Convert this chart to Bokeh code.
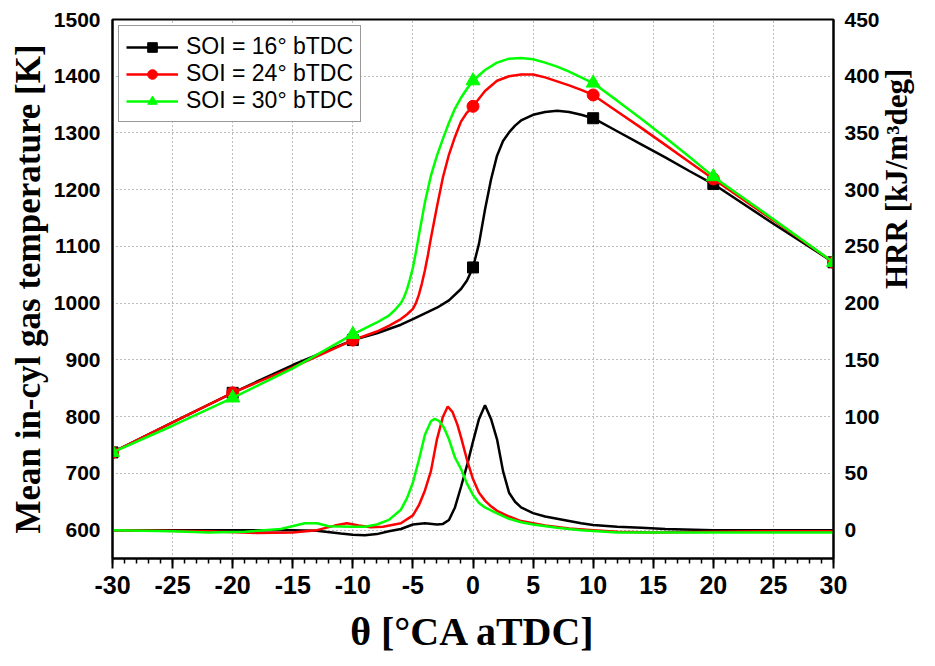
import math
from bokeh.plotting import figure
from bokeh.models import Range1d, LinearAxis, FixedTicker
from bokeh.embed import file_html
from bokeh.resources import INLINE

# ---------------- data ----------------
marker_theta = [-30, -20, -10, 0, 10, 20, 30]
x_ticks = list(range(-30, 31, 5))
left_ticks = list(range(600, 1501, 100))
right_ticks = list(range(0, 451, 50))

# Mean in-cylinder gas temperature [K]
t16_theta = [-30, -25, -20, -15, -10, -8, -6, -5, -4, -3, -2, -1, -0.5, 0, 0.5, 1, 1.5, 2, 2.5, 3,
             3.5, 4, 5, 6, 7, 8, 9, 10, 12, 14, 16, 18, 20, 25, 30]
t16_temp = [737, 790, 842, 891, 935, 947, 962, 972, 982, 992, 1005, 1025, 1040, 1063, 1105, 1165, 1218,
            1260, 1286, 1301, 1313, 1322, 1332, 1337, 1339, 1337, 1332, 1326, 1303, 1280, 1257, 1233,
            1210, 1140, 1072]

t24_theta = [-30, -25, -20, -15, -10, -8, -7, -6, -5.5, -5, -4.75, -4.5, -4.25, -4, -3.75, -3.5, -3,
             -2.5, -2, -1.5, -1, -0.5, 0, 1, 2, 3, 4, 5, 6, 7, 8, 9, 10, 12, 14, 16, 18, 20, 25, 30]
t24_temp = [737, 790, 842, 887, 935, 950, 960, 972, 980, 990, 1000, 1015, 1035, 1058, 1085, 1115, 1170,
            1222, 1262, 1293, 1320, 1336, 1347, 1374, 1392, 1400, 1403, 1403, 1398, 1391, 1384, 1376,
            1367, 1338, 1309, 1279, 1249, 1219, 1146, 1072]

t30_theta = [-30, -25, -20, -15, -10, -8, -7, -6.5, -6, -5.75, -5.5, -5.25, -5, -4.75, -4.5, -4, -3.5,
             -3, -2.5, -2, -1.5, -1, -0.5, 0, 1, 2, 3, 4, 5, 6, 7, 8, 9, 10, 12, 14, 16, 18, 20, 25, 30]
t30_temp = [737, 784, 833, 885, 945, 966, 978, 988, 1000, 1010, 1024, 1042, 1063, 1090, 1120, 1178,
            1225, 1260, 1290, 1318, 1343, 1362, 1378, 1392, 1411, 1424, 1431, 1432, 1430, 1424, 1417,
            1408, 1398, 1388, 1357, 1325, 1292, 1258, 1223, 1148, 1072]

# Heat release rate [kJ/m3deg]
h16_theta = [-30, -20, -15, -13, -11, -10, -9, -8, -7, -6, -5, -4, -3, -2.5, -2, -1.5, -1, -0.5, 0,
             0.5, 1, 1.5, 2, 2.5, 3, 3.5, 4, 5, 6, 7, 8, 9, 10, 12, 14, 16, 20, 30]
h16_hrr = [0, 0, 0, -0.5, -3, -4, -4.5, -3.5, -1, 1, 5, 6, 5, 5.5, 9, 20, 38, 57, 78, 98, 110, 98, 80,
           52, 33, 25, 20, 15, 12, 10, 8, 6, 4.5, 3, 2, 1, 0, 0]

h24_theta = [-30, -22, -18, -15, -13, -11.5, -10.5, -9.5, -8.5, -7.5, -6, -5, -4.5, -4, -3.5, -3, -2.5,
             -2.1, -1.7, -1.3, -1, -0.5, 0, 0.5, 1, 1.5, 2, 3, 4, 5, 6, 8, 10, 12, 15, 20, 25, 30]
h24_hrr = [0, -1, -2.5, -2, 0, 4, 6, 4, 2.5, 3, 6, 13, 22, 35, 52, 80, 100, 109, 104, 93, 82, 62, 45,
           33, 26, 21, 17, 12, 8, 6, 4, 1.5, 0, -1.5, -2, -1.5, -1, -1]

h30_theta = [-30, -25, -22, -19, -16, -14, -13, -12, -10, -9, -8, -7, -6, -5.5, -5, -4.5, -4, -3.5,
             -3.2, -2.8, -2.4, -2, -1.5, -1, -0.5, 0, 0.5, 1, 2, 3, 4, 5, 7, 9, 12, 15, 20, 30]
h30_hrr = [0, -1, -2, -1.5, 1, 6, 6, 3.5, 3, 3, 5, 9, 18, 28, 42, 62, 84, 96, 98, 96, 90, 80, 64, 54,
           41, 31, 24, 20, 14.7, 10, 7, 5, 2, 0, -2, -2, -2, -2]

series = [
    ("SOI = 16° bTDC", "black", "square", 11, t16_theta, t16_temp, h16_theta, h16_hrr),
    ("SOI = 24° bTDC", "#ff0000", "circle", 12, t24_theta, t24_temp, h24_theta, h24_hrr),
    ("SOI = 30° bTDC", "#00ff00", "triangle", 14, t30_theta, t30_temp, h30_theta, h30_hrr),
]

# ---------------- figure ----------------
SANS = "Liberation Sans"
SERIF = "Liberation Serif"

p = figure(width=935, height=666, x_range=Range1d(-30, 30), y_range=Range1d(550, 1500),
           output_backend="svg", toolbar_location=None,
           min_border_left=112, min_border_right=102, min_border_top=19, min_border_bottom=108)
p.background_fill_color = "white"
p.border_fill_color = "white"
p.outline_line_color = "black"
p.outline_line_width = 2

p.extra_y_ranges = {"hrr": Range1d(-25, 450)}

# grid
p.xgrid.ticker = FixedTicker(ticks=x_ticks)
p.ygrid.ticker = FixedTicker(ticks=left_ticks)
for g in (p.xgrid, p.ygrid):
    g.grid_line_color = "#7a7a7a"
    g.grid_line_dash = "1 3"
    g.grid_line_width = 1

# x axis
xa = p.xaxis[0]
xa.ticker = FixedTicker(ticks=x_ticks, minor_ticks=list(range(-30, 31, 1)))
xa.major_label_overrides = {t: str(t) for t in x_ticks}
xa.axis_label = "θ [°CA aTDC]"
xa.axis_label_text_font = SERIF
xa.axis_label_text_font_style = "bold"
xa.axis_label_text_font_size = "40px"
xa.axis_label_text_color = "black"
xa.axis_label_standoff = 12
xa.major_label_text_font = SANS
xa.major_label_text_font_style = "bold"
xa.major_label_text_font_size = "25px"
xa.major_label_text_color = "black"
xa.major_label_standoff = 7
xa.major_tick_out = 10
xa.major_tick_in = 0
xa.minor_tick_out = 5
xa.minor_tick_in = 0
xa.axis_line_width = 2
xa.major_tick_line_width = 2
xa.minor_tick_line_width = 1.5

# left axis
ya = p.yaxis[0]
ya.ticker = FixedTicker(ticks=left_ticks)
ya.axis_label = "Mean in-cyl gas temperature [K]"
ya.axis_label_text_font = SERIF
ya.axis_label_text_font_style = "bold"
ya.axis_label_text_font_size = "35px"
ya.axis_label_text_color = "black"
ya.axis_label_standoff = 3
ya.major_label_text_font = SANS
ya.major_label_text_font_style = "bold"
ya.major_label_text_font_size = "21px"
ya.major_label_text_color = "black"
ya.major_label_standoff = 12
ya.major_tick_out = 0
ya.major_tick_in = 0
ya.minor_tick_out = 0
ya.minor_tick_in = 0
ya.axis_line_width = 2

# right axis
ra = LinearAxis(y_range_name="hrr", ticker=FixedTicker(ticks=right_ticks))
ra.major_label_text_font = SANS
ra.major_label_text_font_style = "bold"
ra.major_label_text_font_size = "21px"
ra.major_label_text_color = "black"
ra.major_label_standoff = 11
ra.major_tick_out = 0
ra.major_tick_in = 0
ra.minor_tick_out = 0
ra.minor_tick_in = 0
ra.axis_line_width = 2
ra.axis_label = "HRR [kJ/m³deg]"
ra.axis_label_text_font = SERIF
ra.axis_label_text_font_style = "bold"
ra.axis_label_text_font_size = "31px"
ra.axis_label_text_color = "black"
ra.axis_label_standoff = 14
try:
    ra.axis_label_orientation = math.pi / 2
except Exception:
    pass
p.add_layout(ra, "right")

# ---------------- glyphs ----------------
for label, color, marker, msize, tth, tt, hth, hh in series:
    p.line(hth, hh, y_range_name="hrr", line_color=color, line_width=2.5)

for label, color, marker, msize, tth, tt, hth, hh in series:
    lookup = dict(zip(tth, tt))
    mx = list(marker_theta)
    my = [lookup[m] for m in marker_theta]
    p.line(tth, tt, line_color=color, line_width=2.5, legend_label=label)
    p.scatter(mx, my, marker=marker, size=msize, fill_color=color, line_color=color,
              legend_label=label)

lg = p.legend[0]
lg.location = "top_left"
lg.margin = 6
lg.padding = 7
lg.spacing = 0
lg.border_line_color = "#333333"
lg.border_line_width = 1
lg.background_fill_color = "white"
lg.background_fill_alpha = 1
lg.label_text_font = SANS
lg.label_text_font_size = "23px"
lg.label_text_color = "black"
lg.label_standoff = 8
lg.glyph_width = 52
lg.glyph_height = 24
lg.label_height = 24

open("out.html", "w").write(file_html(p, INLINE))
